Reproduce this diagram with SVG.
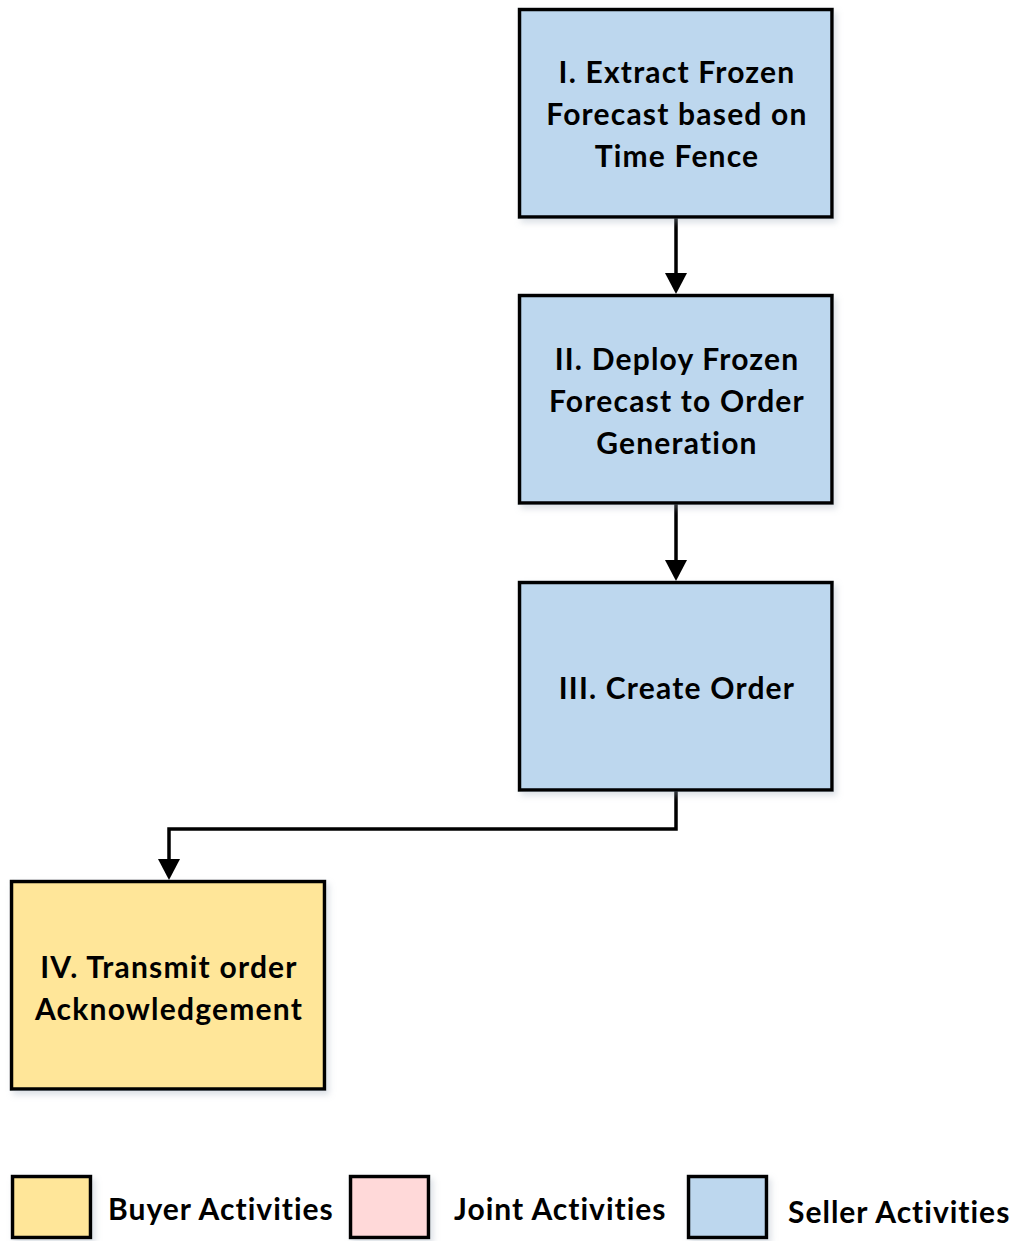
<svg xmlns="http://www.w3.org/2000/svg" width="1016" height="1241" viewBox="0 0 1016 1241">
  <defs>
    <filter id="shadow" x="-10%" y="-10%" width="125%" height="125%">
      <feDropShadow dx="3" dy="4" stdDeviation="3" flood-color="#9aa7b8" flood-opacity="0.35"/>
    </filter>
    <!-- arrowhead: base sits at the path end, tip extends 21px beyond -->
    <marker id="arrow" viewBox="0 0 21 22" refX="0" refY="11" markerWidth="21" markerHeight="22" markerUnits="userSpaceOnUse" orient="auto">
      <path d="M0,0 L21,11 L0,22 Z" fill="#000"/>
    </marker>
  </defs>
  <style>
    .box { stroke: #000; stroke-width: 3.5; filter: url(#shadow); }
    .seller { fill: #BDD7EE; }
    .buyer { fill: #FFE699; }
    .joint { fill: #FFD9D9; }
    .label { font-family: "Lato", "Open Sans", sans-serif; font-weight: bold; font-size: 30px; letter-spacing: 1.2px; fill: #000; text-anchor: middle; }
    .legend { font-family: "Lato", "Open Sans", sans-serif; font-weight: bold; font-size: 30px; letter-spacing: 1px; fill: #000; }
    .conn { fill: none; stroke: #000; stroke-width: 3.5; }
  </style>

  <g id="connectors">
    <path class="conn" d="M676,217 V273" marker-end="url(#arrow)"/>
    <path class="conn" d="M676,503 V560" marker-end="url(#arrow)"/>
    <path class="conn" d="M676,790 V829 H169 V859" marker-end="url(#arrow)"/>
  </g>

  <g id="node-extract">
    <rect class="box seller" x="519.5" y="9.5" width="312.5" height="207.5"/>
    <text class="label" x="677" y="83">I. Extract Frozen</text>
    <text class="label" x="677" y="125">Forecast based on</text>
    <text class="label" x="677" y="167">Time Fence</text>
  </g>

  <g id="node-deploy">
    <rect class="box seller" x="519.5" y="295.5" width="312.5" height="207.5"/>
    <text class="label" x="677" y="370">II. Deploy Frozen</text>
    <text class="label" x="677" y="412">Forecast to Order</text>
    <text class="label" x="677" y="454">Generation</text>
  </g>

  <g id="node-create">
    <rect class="box seller" x="519.5" y="582.5" width="312.5" height="207.5"/>
    <text class="label" x="677" y="699">III. Create Order</text>
  </g>

  <g id="node-transmit">
    <rect class="box buyer" x="11.5" y="881.5" width="313" height="207.5"/>
    <text class="label" x="169" y="978">IV. Transmit order</text>
    <text class="label" x="169" y="1020">Acknowledgement</text>
  </g>

  <g id="legend">
    <rect class="box buyer" x="12.5" y="1176.5" width="78" height="61"/>
    <text class="legend" x="108" y="1220">Buyer Activities</text>
    <rect class="box joint" x="350.5" y="1176.5" width="78" height="61"/>
    <text class="legend" x="454" y="1220">Joint Activities</text>
    <rect class="box seller" x="688.5" y="1176.5" width="78" height="61"/>
    <text class="legend" x="788" y="1223">Seller Activities</text>
  </g>
</svg>
